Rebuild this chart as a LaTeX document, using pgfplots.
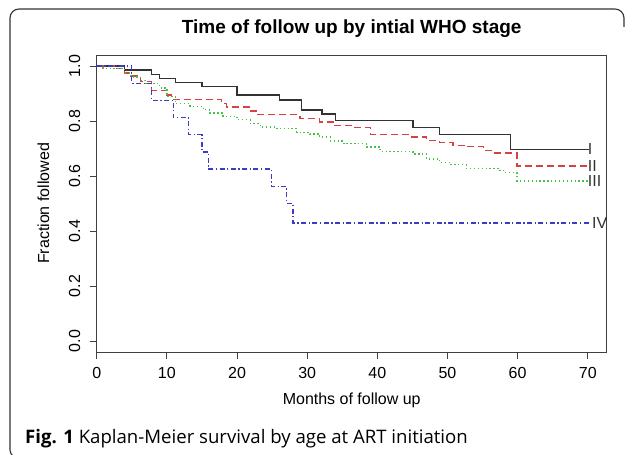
\documentclass[border=0pt]{standalone}
\usepackage{pgfplots}
\pgfplotsset{compat=1.18}
\usepackage{fontspec}
\setmainfont{Liberation Sans}
\newfontfamily\capfont{Open Sans}

\definecolor{stI}{RGB}{50,50,50}
\definecolor{stII}{RGB}{215,65,65}
\definecolor{stIII}{RGB}{70,195,70}
\definecolor{stIV}{RGB}{60,60,200}
\definecolor{frame}{RGB}{50,50,50}

\begin{document}
\begin{tikzpicture}[x=1pt,y=1pt]
\path[use as bounding box] (0,0) rectangle (629,455);
% rounded frame of the figure panel
\draw[frame, line width=1.1pt] (17,-2) arc[start angle=270, end angle=180, radius=7]
  -- (10,437) arc[start angle=180, end angle=90, radius=9]
  -- (615,446) arc[start angle=90, end angle=0, radius=9] -- (624,428);

\begin{axis}[
  at={(96.7pt,103pt)}, anchor=south west,
  scale only axis, width=510pt, height=297pt,
  xmin=0, xmax=72.7, ymin=-0.04, ymax=1.04,
  xtick={0,10,...,70}, ytick={0,0.2,0.4,0.6,0.8,1.0},
  xtick pos=bottom, ytick pos=left,
  tick align=outside, major tick length=7pt,
  axis line style={black!75, line width=0.9pt},
  tick style={black!75, line width=0.9pt},
  ticklabel style={font=\fontsize{16}{19}\selectfont},
  /pgf/number format/assume math mode=true,
  xticklabel style={yshift=-5pt},
  yticklabel style={xshift=-6pt, rotate=90, anchor=south,
    /pgf/number format/.cd, fixed, fixed zerofill, precision=1},
  clip=false,
  const plot,
  every axis plot/.append style={line width=1.3pt},
]
% stage I
\addplot[stI] coordinates {
  (0,1.0) (4.0,0.985) (7.8,0.97) (9.0,0.955) (11.2,0.939) (15.0,0.925)
  (20.0,0.894) (26.1,0.876) (29.2,0.84) (32.1,0.825) (34.0,0.803)
  (45.1,0.776) (48.9,0.75) (59.0,0.697) (70.2,0.697)
};
% stage II
\addplot[stII, dash pattern=on 7pt off 4pt] coordinates {
  (0,1.0) (2.5,0.99) (4.0,0.975) (4.9,0.964) (6.2,0.943) (7.8,0.912)
  (10.0,0.894) (10.7,0.878) (17.8,0.863) (18.5,0.851) (21.9,0.836)
  (22.8,0.823) (29.0,0.808) (31.8,0.796) (33.8,0.784) (36.6,0.776)
  (39.0,0.751) (44.7,0.742) (47.0,0.73) (48.9,0.722) (50.8,0.712)
  (52.7,0.706) (55.1,0.693) (56.3,0.684) (59.9,0.636) (70.2,0.636)
};
% stage III
\addplot[stIII, dash pattern=on 1.3pt off 2.6pt] coordinates {
  (0,1.0) (0.9,0.99) (4.0,0.975) (4.9,0.96) (6.2,0.948) (6.9,0.936)
  (9.0,0.92) (10.0,0.888) (11.2,0.863) (13.3,0.853) (15.2,0.841)
  (16.1,0.829) (18.0,0.817) (20.0,0.805) (21.9,0.79) (23.3,0.778)
  (25.7,0.772) (28.5,0.759) (30.4,0.753) (31.8,0.742) (33.3,0.727)
  (35.2,0.717) (38.5,0.705) (40.4,0.689) (45.1,0.68) (47.0,0.662)
  (48.9,0.649) (50.4,0.641) (52.7,0.627) (57.5,0.62) (58.2,0.613)
  (59.9,0.582) (70.2,0.582)
};
% stage IV
\addplot[stIV, dash pattern=on 5pt off 2.5pt on 1.3pt off 2.5pt] coordinates {
  (0,1.0) (5.0,0.9375) (7.8,0.875) (10.9,0.8125) (13.1,0.75)
  (15.0,0.6875) (15.9,0.625) (24.9,0.5625) (27.1,0.5) (28.0,0.4286)
  (70.2,0.4286)
};
\begin{scope}[every node/.style={anchor=west, inner sep=0pt, text=black!80,
    font=\fontsize{16}{19}\selectfont}]
  \node at (axis cs:70.0,0.697) {I};
  \node at (axis cs:70.0,0.636) {II};
  \node at (axis cs:70.0,0.582) {III};
  \node at (axis cs:70.6,0.4286) {IV};
\end{scope}
\end{axis}

\node[anchor=base, font=\fontsize{19}{23}\selectfont\bfseries] at (351.7,421) {Time of follow up by intial WHO stage};
\node[anchor=base, font=\fontsize{16}{19}\selectfont] at (351.7,50) {Months of follow up};
\node[anchor=base, rotate=90, font=\fontsize{16}{19}\selectfont] at (49,251.5) {Fraction followed};
\node[anchor=base west, inner sep=0pt, font=\capfont\fontsize{18.6}{22}\selectfont] at (25,12)
  {\textbf{Fig. 1} Kaplan-Meier survival by age at ART initiation};
\end{tikzpicture}
\end{document}
